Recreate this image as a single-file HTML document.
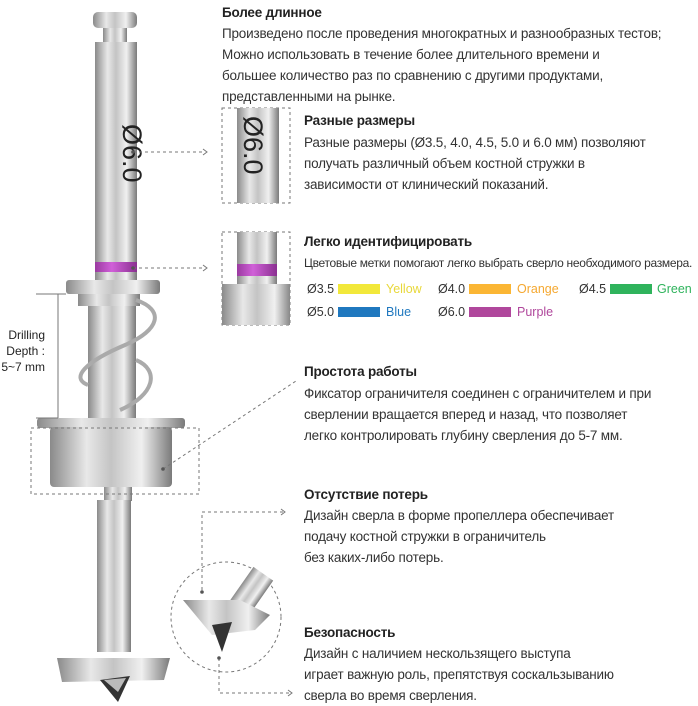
<!DOCTYPE html>
<html><head><meta charset="utf-8"><style>
html,body{margin:0;padding:0;background:#fff}
body{width:698px;height:703px;position:relative;overflow:hidden;font-family:"Liberation Sans","Noto Sans CJK SC",sans-serif;color:#333}
.t{position:absolute;font-size:13.5px;line-height:21px;white-space:nowrap;letter-spacing:-0.2px}
.b{font-weight:bold;color:#222}
.sm{font-size:12px;letter-spacing:-0.3px}
.lg{position:absolute;font-size:12.5px;white-space:nowrap}
.sw{position:absolute;width:42px;height:10px}
</style></head><body>
<svg width="698" height="703" style="position:absolute;left:0;top:0">
<defs>
<linearGradient id="m" x1="0" x2="1" y1="0" y2="0">
<stop offset="0" stop-color="#8a8a8a"/><stop offset="0.3" stop-color="#e8e8e8"/><stop offset="0.5" stop-color="#c4c4c4"/><stop offset="0.75" stop-color="#f0f0f0"/><stop offset="1" stop-color="#7a7a7a"/>
</linearGradient>
<linearGradient id="p" x1="0" x2="1"><stop offset="0" stop-color="#9a3aa0"/><stop offset="0.4" stop-color="#d060d8"/><stop offset="1" stop-color="#8a3090"/></linearGradient>
</defs>
<g stroke="none">
<rect x="93" y="12" width="44" height="16" rx="5" fill="url(#m)"/>
<rect x="103" y="28" width="24" height="14" fill="url(#m)"/>
<rect x="95" y="42" width="42" height="220" fill="url(#m)"/>
<text x="0" y="0" transform="translate(123,124) rotate(90)" font-size="27" font-family="Liberation Sans" fill="#222">Ø6.0</text>
<rect x="95" y="262" width="42" height="10" fill="url(#p)"/>
<rect x="95" y="272" width="42" height="8" fill="url(#m)"/>
<rect x="66" y="280" width="94" height="14" rx="3" fill="url(#m)"/>
<rect x="78" y="294" width="62" height="12" fill="url(#m)"/>
<rect x="88" y="306" width="48" height="112" fill="url(#m)"/>
<path d="M136 300 C165 310 160 330 125 345 C85 362 70 378 88 385 M136 360 C160 370 155 395 120 410" stroke="#aaa" stroke-width="4" fill="none"/>
<rect x="37" y="418" width="148" height="10" rx="3" fill="url(#m)"/>
<rect x="50" y="427" width="122" height="60" rx="4" fill="url(#m)"/>
<rect x="104" y="487" width="28" height="14" fill="url(#m)"/>
<rect x="97" y="500" width="34" height="152" fill="url(#m)"/>
<polygon points="57,658 170,658 164,680 62,682" fill="url(#m)"/>
<polygon points="100,680 130,676 118,702" fill="#333"/>
<polygon points="104,680 126,678 118,692" fill="#bbb"/>
</g>
<g stroke="#777" stroke-width="1" fill="none">
<line x1="36" y1="294" x2="66" y2="294"/><line x1="58" y1="294" x2="58" y2="418"/><line x1="36" y1="418" x2="58" y2="418"/>
</g>
<g stroke="#777" stroke-width="1" stroke-dasharray="3,3" fill="none">
<line x1="133" y1="152" x2="205" y2="152"/>
<line x1="133" y1="268" x2="205" y2="268"/>
<rect x="222" y="108" width="68" height="95"/>
<rect x="222" y="232" width="68" height="93"/>
<rect x="31" y="428" width="168" height="66"/>
<line x1="163" y1="469" x2="296" y2="381"/>
<circle cx="226" cy="617" r="55"/>
<polyline points="202,590 202,512 283,512"/>
<polyline points="219,658 219,693 290,693"/>
</g>
<g fill="#555"><circle cx="133" cy="152" r="1.8"/><circle cx="133" cy="268" r="1.8"/><circle cx="163" cy="469" r="1.8"/><circle cx="202" cy="592" r="1.8"/><circle cx="219" cy="658" r="1.8"/></g>
<g fill="none" stroke="#777"><path d="M203 149 l4 3 -4 3"/><path d="M203 265 l4 3 -4 3"/><path d="M281 509 l4 3 -4 3"/><path d="M288 690 l4 3 -4 3"/></g>
<clipPath id="c1"><rect x="222" y="108" width="68" height="95"/></clipPath>
<g clip-path="url(#c1)"><rect x="237" y="108" width="42" height="95" fill="url(#m)"/>
<text transform="translate(244,116) rotate(90)" font-size="27" font-family="Liberation Sans" fill="#222">Ø6.0</text></g>
<clipPath id="c2"><rect x="222" y="232" width="68" height="93"/></clipPath>
<g clip-path="url(#c2)"><rect x="237" y="232" width="40" height="32" fill="url(#m)"/><rect x="237" y="264" width="40" height="12" fill="url(#p)"/><rect x="237" y="276" width="40" height="8" fill="url(#m)"/><rect x="222" y="284" width="70" height="14" fill="url(#m)"/><rect x="222" y="298" width="70" height="27" fill="url(#m)"/></g>
<g><rect x="233" y="568" width="24" height="42" fill="url(#m)" transform="rotate(35 245 600)"/>
<polygon points="183,600 240,600 270,615 255,630 212,635" fill="url(#m)"/>
<polygon points="212,625 232,622 222,652" fill="#333"/></g>
</svg>
<div class="lg" style="left:0;top:327px;font-size:12px;line-height:16px;text-align:right;width:45px;color:#222">Drilling<br>Depth :<br>5~7 mm</div>

<div class="t b" style="left:222px;top:2px">Более длинное</div>
<div class="t" style="left:222px;top:23px">Произведено после проведения многократных и разнообразных тестов;<br>Можно использовать в течение более длительного времени и<br>большее количество раз по сравнению с другими продуктами,<br>представленными на рынке.</div>

<div class="t b" style="left:304px;top:110px">Разные размеры</div>
<div class="t" style="left:304px;top:132px">Разные размеры (Ø3.5, 4.0, 4.5, 5.0 и 6.0 мм) позволяют<br>получать различный объем костной стружки в<br>зависимости от клинический показаний.</div>

<div class="t b" style="left:304px;top:231px">Легко идентифицировать</div>
<div class="t sm" style="left:304px;top:253px">Цветовые метки помогают легко выбрать сверло необходимого размера.</div>
<div class="lg" style="left:307px;top:282px">Ø3.5</div><div class="sw" style="left:338px;top:284px;background:#f2e83a"></div><div class="lg" style="left:386px;top:282px;color:#e8d83a">Yellow</div>
<div class="lg" style="left:438px;top:282px">Ø4.0</div><div class="sw" style="left:469px;top:284px;background:#fbb634"></div><div class="lg" style="left:517px;top:282px;color:#f5a830">Orange</div>
<div class="lg" style="left:579px;top:282px">Ø4.5</div><div class="sw" style="left:610px;top:284px;background:#2fb35c"></div><div class="lg" style="left:657px;top:282px;color:#2fb35c">Green</div>
<div class="lg" style="left:307px;top:305px">Ø5.0</div><div class="sw" style="left:338px;top:307px;background:#1f78bf"></div><div class="lg" style="left:386px;top:305px;color:#1f78bf">Blue</div>
<div class="lg" style="left:438px;top:305px">Ø6.0</div><div class="sw" style="left:469px;top:307px;background:#b0479c"></div><div class="lg" style="left:517px;top:305px;color:#b0479c">Purple</div>

<div class="t b" style="left:304px;top:361px">Простота работы</div>
<div class="t" style="left:304px;top:383px">Фиксатор ограничителя соединен с ограничителем и при<br>сверлении вращается вперед и назад, что позволяет<br>легко контролировать глубину сверления до 5-7 мм.</div>

<div class="t b" style="left:304px;top:484px">Отсутствие потерь</div>
<div class="t" style="left:304px;top:505px">Дизайн сверла в форме пропеллера обеспечивает<br>подачу костной стружки в ограничитель<br>без каких-либо потерь.</div>

<div class="t b" style="left:304px;top:622px">Безопасность</div>
<div class="t" style="left:304px;top:643px">Дизайн с наличием нескользящего выступа<br>играет важную роль, препятствуя соскальзыванию<br>сверла во время сверления.</div>
</body></html>
